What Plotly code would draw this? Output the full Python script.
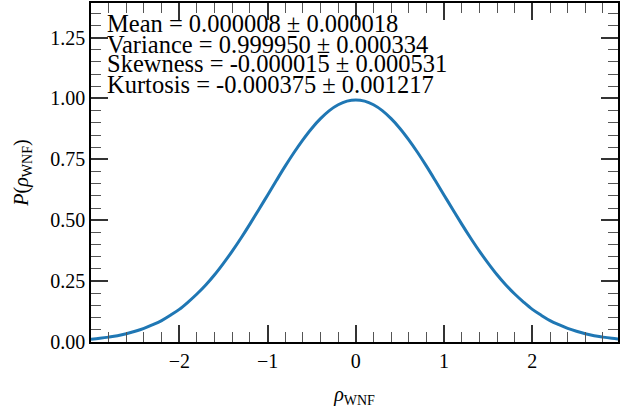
import plotly.graph_objects as go

# Values
x_vals = [-3.0, -2.9, -2.8, -2.7, -2.6, -2.5, -2.4, -2.3, -2.2, -2.1, -2.0,
          -1.9, -1.8, -1.7, -1.6, -1.5, -1.4, -1.3, -1.2, -1.1, -1.0,
          -0.9, -0.8, -0.7, -0.6, -0.5, -0.4, -0.3, -0.2, -0.1, 0.0,
          0.1, 0.2, 0.3, 0.4, 0.5, 0.6, 0.7, 0.8, 0.9, 1.0,
          1.1, 1.2, 1.3, 1.4, 1.5, 1.6, 1.7, 1.8, 1.9, 2.0,
          2.1, 2.2, 2.3, 2.4, 2.5, 2.6, 2.7, 2.8, 2.9, 3.0]
p_vals = [0.011, 0.015, 0.020, 0.026, 0.034, 0.044, 0.056, 0.071, 0.088, 0.110, 0.134,
          0.164, 0.197, 0.234, 0.276, 0.323, 0.373, 0.427, 0.484, 0.543, 0.603,
          0.663, 0.722, 0.778, 0.830, 0.877, 0.917, 0.950, 0.974, 0.989, 0.994,
          0.989, 0.974, 0.950, 0.917, 0.877, 0.830, 0.778, 0.722, 0.663, 0.603,
          0.543, 0.484, 0.427, 0.373, 0.323, 0.276, 0.234, 0.197, 0.164, 0.134,
          0.110, 0.088, 0.071, 0.056, 0.044, 0.034, 0.026, 0.020, 0.015, 0.011]

stats_lines = ["Mean = 0.000008 ± 0.000018",
               "Variance = 0.999950 ± 0.000334",
               "Skewness = -0.000015 ± 0.000531",
               "Kurtosis = -0.000375 ± 0.001217"]

x_ticks = [-2, -1, 0, 1, 2]
y_ticks = [0.0, 0.25, 0.5, 0.75, 1.0, 1.25]

FONT = "Liberation Serif"

fig = go.Figure()
fig.add_trace(go.Scatter(x=x_vals, y=p_vals, mode="lines",
                         line=dict(color="#1f77b4", width=3, shape="spline", smoothing=1.0),
                         hoverinfo="skip"))

axis_common = dict(
    showgrid=False, zeroline=False, showline=True, linecolor="black", linewidth=1.5,
    mirror="allticks", ticks="inside", ticklen=17, tickwidth=1.5, tickcolor="#333333",
    tickfont=dict(family=FONT, size=20, color="black"),
)

fig.update_xaxes(range=[-3.0, 2.97], tickvals=x_ticks, **axis_common,
                 minor=dict(ticks="inside", ticklen=10, tickwidth=1.2, tickcolor="#555555", dtick=0.2, tick0=0),
                 title=dict(text="<i>ρ</i><sub>WNF</sub>", font=dict(family=FONT, size=20, color="black"), standoff=16))
fig.update_yaxes(range=[0, 1.392], tickvals=y_ticks, tickformat=".2f", **axis_common,
                 minor=dict(ticks="inside", ticklen=10, tickwidth=1.2, tickcolor="#555555", dtick=0.05, tick0=0),
                 title=dict(text="<i>P</i>(<i>ρ</i><sub>WNF</sub>)", font=dict(family=FONT, size=20, color="black"), standoff=16))

centers_px = [24.0, 44.0, 64.0, 84.3]
for line, cy in zip(stats_lines, centers_px):
    fig.add_annotation(text=line, xref="paper", yref="paper", x=(105 - 91) / 529, y=(342 - cy) / 339,
                       xanchor="left", yanchor="middle", showarrow=False,
                       font=dict(family=FONT, size=24.5, color="black"))

fig.update_layout(width=621, height=412, margin=dict(l=91, r=1, t=3, b=70),
                  plot_bgcolor="white", paper_bgcolor="white", showlegend=False)

fig.write_html("out.html")
